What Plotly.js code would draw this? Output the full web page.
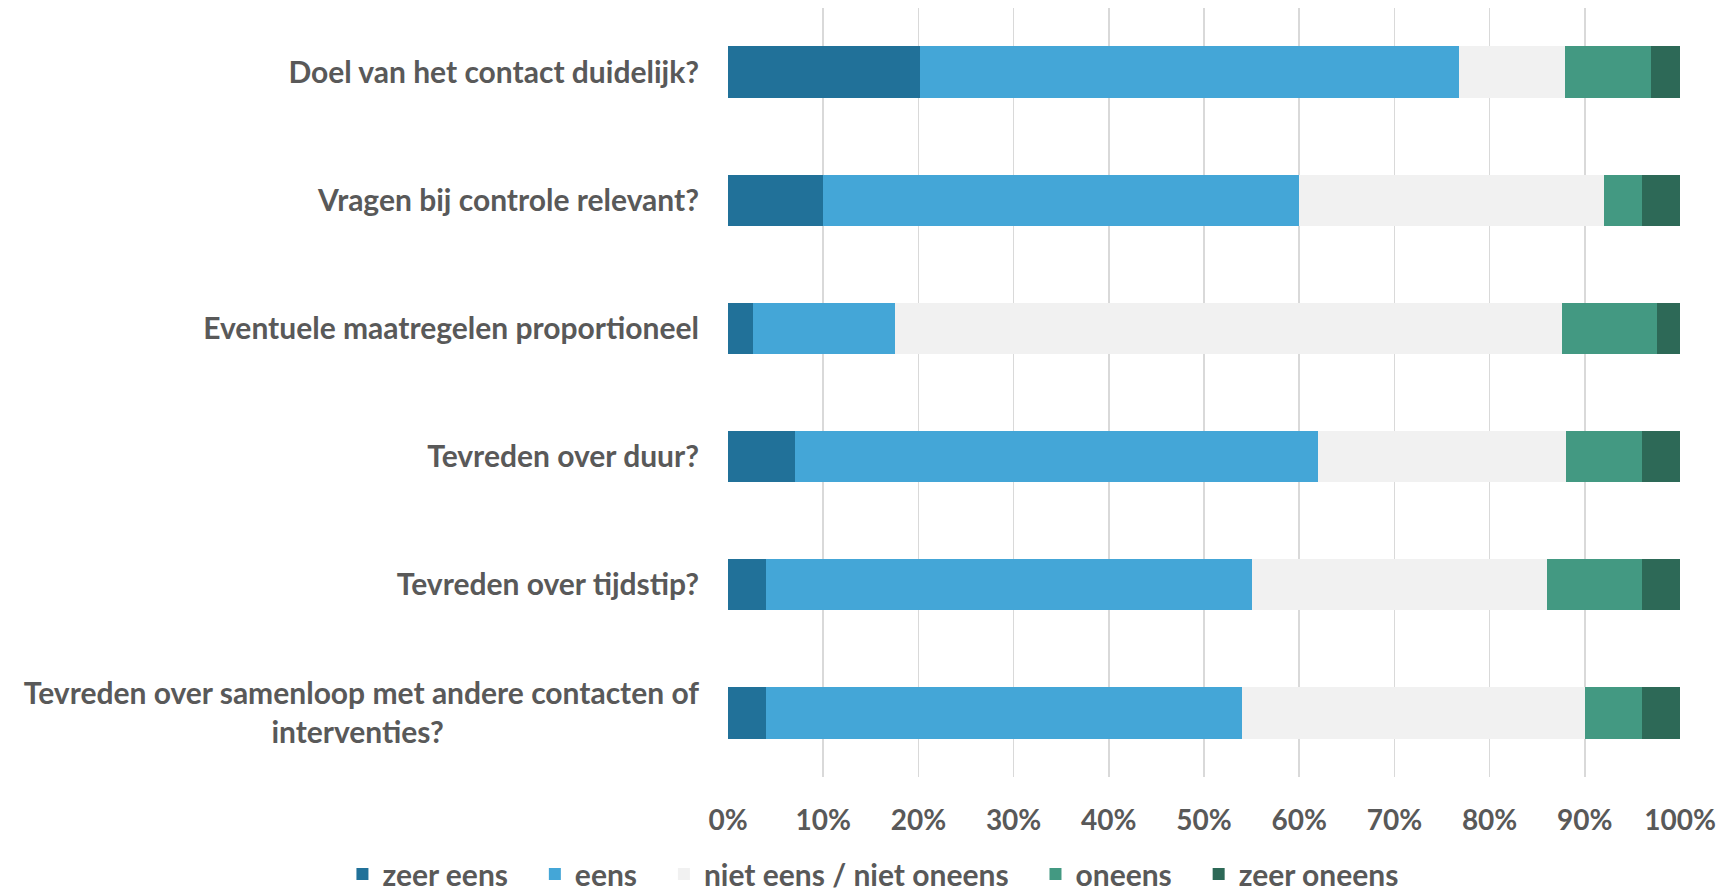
<!DOCTYPE html>
<html>
<head>
<meta charset="utf-8">
<script src="https://cdn.plot.ly/plotly-3.0.1.min.js"></script>
<style>
html,body{margin:0;padding:0;background:#fff;}
#chart{width:1730px;height:896px;}
</style>
</head>
<body>
<div id="chart"></div>
<script>
var categories = [
  "Doel van het contact duidelijk?",
  "Vragen bij controle relevant?",
  "Eventuele maatregelen proportioneel",
  "Tevreden over duur?",
  "Tevreden over tijdstip?",
  "Tevreden over samenloop met andere contacten of<br>interventies?"
];
var seriesNames = ["zeer eens", "eens", "niet eens / niet oneens", "oneens", "zeer oneens"];
var zeerEens   = [0.202, 0.10, 0.026, 0.07, 0.04, 0.04];
var eens       = [0.566, 0.50, 0.149, 0.55, 0.51, 0.50];
var neutraal   = [0.111, 0.32, 0.701, 0.26, 0.31, 0.36];
var oneens     = [0.091, 0.04, 0.100, 0.08, 0.10, 0.06];
var zeerOneens = [0.030, 0.04, 0.024, 0.04, 0.04, 0.04];
var tickVals = [0, 0.1, 0.2, 0.3, 0.4, 0.5, 0.6, 0.7, 0.8, 0.9, 1.0];
var tickText = ["0%", "10%", "20%", "30%", "40%", "50%", "60%", "70%", "80%", "90%", "100%"];

var colors = ["#217199", "#44A6D7", "#F1F1F1", "#439982", "#2D6957"];
var values = [zeerEens, eens, neutraal, oneens, zeerOneens];

var font = "Lato, 'Open Sans', sans-serif";
var NB = "\u00A0";
var CAT_SIZE = 30;

// Centre the second line of a two-line category label (Plotly right-aligns lines)
function centreLines(label) {
  var parts = label.split("<br>");
  if (parts.length < 2) return label;
  var c = document.createElement("canvas").getContext("2d");
  c.font = "bold " + CAT_SIZE + "px Lato";
  var w1 = c.measureText(parts[0]).width;
  var w2 = c.measureText(parts[1]).width;
  var nb = c.measureText(NB).width || 7;
  var n = Math.round(((w1 - w2) / 2) / nb);
  return parts[0] + "<br>" + parts[1] + NB.repeat(Math.max(0, n));
}

function build() {
  var cats = categories.map(centreLines);
  var traces = values.map(function (v, i) {
    return {
      type: "bar",
      orientation: "h",
      name: seriesNames[i] + NB + NB + NB,
      x: v,
      y: cats,
      marker: {color: colors[i], line: {width: 0}},
      hoverinfo: "x+name"
    };
  });

  var layout = {
    width: 1730,
    height: 896,
    barmode: "stack",
    bargap: 0.6,
    paper_bgcolor: "#ffffff",
    plot_bgcolor: "#ffffff",
    margin: {l: 728, r: 50, t: 8, b: 119, autoexpand: false},
    font: {family: font, color: "#595959", size: 28},
    xaxis: {
      range: [0, 1],
      tickvals: tickVals,
      ticktext: tickText,
      showgrid: true,
      gridcolor: "#D9D9D9",
      gridwidth: 1.5,
      zeroline: false,
      showline: false,
      ticks: "",
      ticklabelstandoff: 24,
      tickfont: {family: font, size: 28, color: "#595959", weight: "bold"},
      fixedrange: true
    },
    yaxis: {
      autorange: "reversed",
      type: "category",
      showgrid: false,
      zeroline: false,
      showline: false,
      ticks: "",
      ticklabelstandoff: 28,
      tickfont: {family: font, size: CAT_SIZE, color: "#595959", weight: "bold"},
      fixedrange: true
    },
    legend: {
      orientation: "h",
      xref: "paper",
      yref: "paper",
      x: -0.405,
      xanchor: "left",
      y: -0.126,
      yanchor: "middle",
      font: {family: font, size: 30, color: "#595959", weight: "bold"},
      traceorder: "normal",
      itemwidth: 30
    },
    showlegend: true
  };

  Plotly.newPlot("chart", traces, layout, {displayModeBar: false, staticPlot: true});
}

if (document.fonts && document.fonts.load) {
  document.fonts.load("bold 30px Lato").then(build, build);
} else {
  build();
}
</script>
</body>
</html>
